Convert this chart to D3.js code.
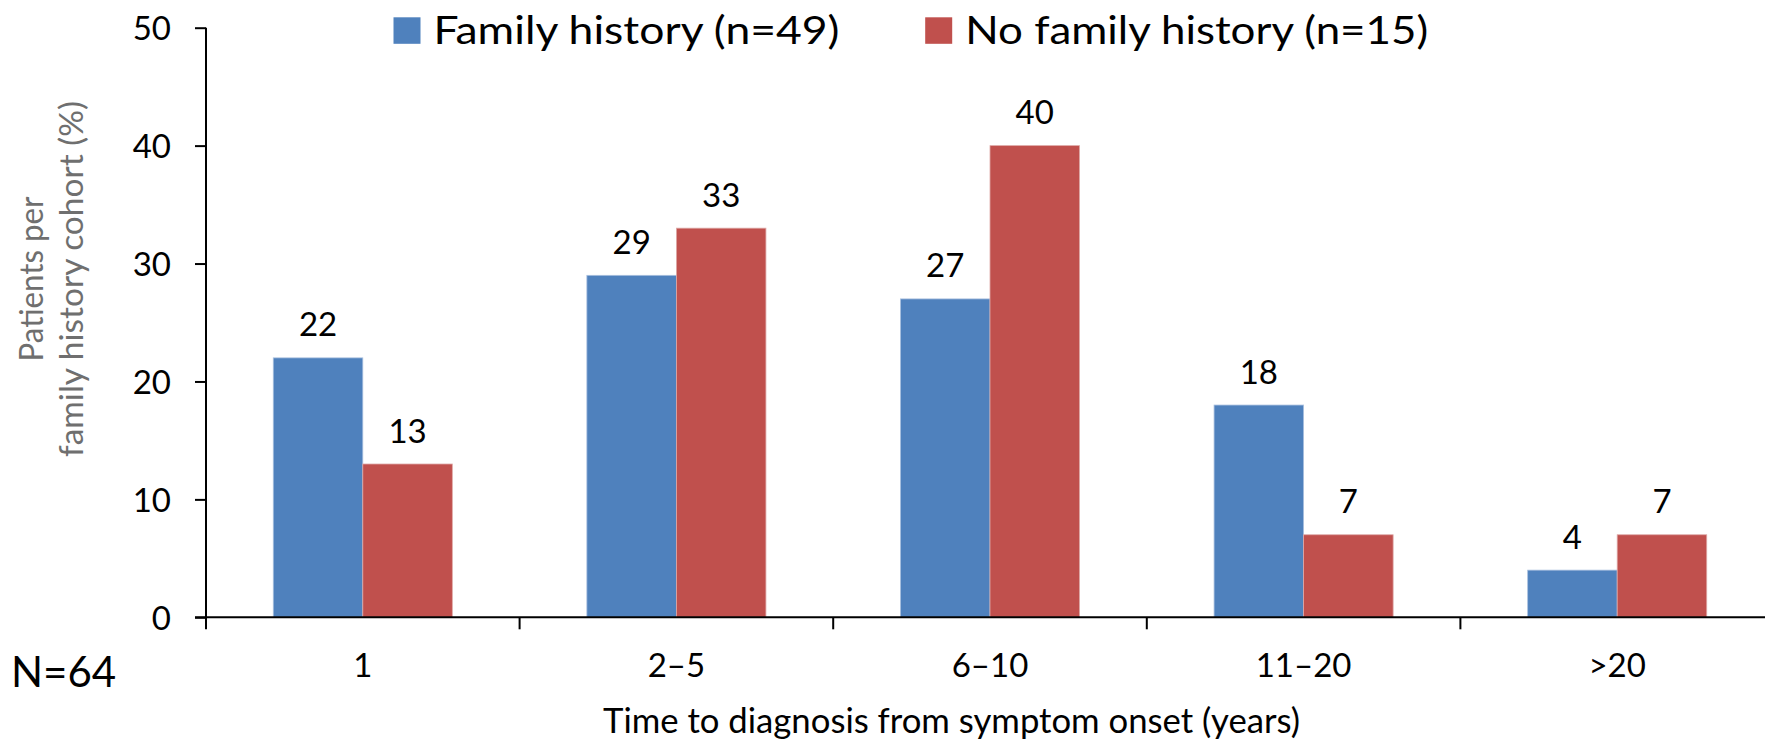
<!DOCTYPE html>
<html>
<head>
<meta charset="utf-8">
<script src="https://cdn.jsdelivr.net/npm/d3@7.9.0/dist/d3.min.js"></script>
<style>
    body { margin: 0; background: #fff; }
    svg { display: block; font-family: Lato, 'Open Sans', sans-serif; }
</style>
</head>
<body>
<svg id="chart" width="1765" height="741"></svg>
<script>
// --- DATA ---
const categories = ['1', '2–5', '6–10', '11–20', '>20'];
const seriesNames = ['Family history (n=49)', 'No family history (n=15)'];
const familyHistory = [22, 29, 27, 18, 4];
const noFamilyHistory = [13, 33, 40, 7, 7];
const yTicks = [0, 10, 20, 30, 40, 50];
const colors = ['#4f81bd', '#c0504d'];

const rows = categories.map((c, i) => ({
    cat: c,
    values: [familyHistory[i], noFamilyHistory[i]]
}));

// --- SCALES ---
const svg = d3.select('#chart');

const y = d3.scaleLinear().domain([0, 50]).range([617.3, 27.7]);

// the last band runs off the right edge, like in the original
const x0 = d3.scaleBand()
    .domain(categories)
    .range([206, 1774])
    .paddingInner(0.429)
    .paddingOuter(0.2145);

const x1 = d3.scaleBand()
    .domain([0, 1])
    .range([0, x0.bandwidth()]);

// --- BARS ---
const groups = svg.append('g')
    .selectAll('g')
    .data(rows)
    .join('g')
    .attr('transform', d => `translate(${x0(d.cat)},0)`);

groups.selectAll('rect')
    .data(d => d.values.map((v, i) => ({ v, i })))
    .join('rect')
    .attr('x', d => x1(d.i))
    .attr('y', d => y(d.v))
    .attr('width', x1.bandwidth())
    .attr('height', d => y(0) - y(d.v))
    .attr('fill', d => colors[d.i])
    .attr('stroke', d => d.i === 0 ? '#a9c0df' : '#dea9a7')
    .attr('stroke-width', 0.8);

groups.selectAll('text.val')
    .data(d => d.values.map((v, i) => ({ v, i })))
    .join('text')
    .attr('class', 'val')
    .attr('x', d => x1(d.i) + x1.bandwidth() / 2)
    .attr('y', d => y(d.v) - 21.5)
    .attr('text-anchor', 'middle')
    .attr('font-size', 33)
    .attr('fill', '#000')
    .text(d => d.v);

// --- AXES ---
const yAxis = svg.append('g')
    .attr('transform', 'translate(206,0)')
    .call(d3.axisLeft(y).tickValues(yTicks).tickSize(11).tickPadding(24));

yAxis.select('.domain').attr('stroke', '#000').attr('stroke-width', 2)
    .attr('d', `M0,${y(50)}V${y(0) + 12}`);
yAxis.selectAll('.tick line').attr('stroke', '#000').attr('stroke-width', 2);
yAxis.selectAll('.tick text')
    .attr('font-size', 33)
    .attr('font-family', 'Lato, sans-serif')
    .attr('fill', '#000')
    .attr('dy', '0.36em');

// x axis line plus the little ticks between categories
const xAxis = svg.append('g');
xAxis.append('line')
    .attr('x1', 195).attr('x2', 1765)
    .attr('y1', y(0)).attr('y2', y(0))
    .attr('stroke', '#000').attr('stroke-width', 2);

xAxis.selectAll('line.sep')
    .data(categories.slice(1))
    .join('line')
    .attr('class', 'sep')
    .attr('x1', d => x0(d) - x0.step() * 0.2145)
    .attr('x2', d => x0(d) - x0.step() * 0.2145)
    .attr('y1', y(0)).attr('y2', y(0) + 12)
    .attr('stroke', '#000').attr('stroke-width', 2);

xAxis.selectAll('text')
    .data(categories)
    .join('text')
    .attr('x', d => x0(d) + x0.bandwidth() / 2)
    .attr('y', 677)
    .attr('text-anchor', 'middle')
    .attr('font-size', 33)
    .text(d => d);

// --- TITLES ---
svg.append('text')
    .attr('x', 951.5)
    .attr('y', 733)
    .attr('text-anchor', 'middle')
    .attr('font-size', 34)
    .attr('textLength', 697)
    .attr('lengthAdjust', 'spacingAndGlyphs')
    .text('Time to diagnosis from symptom onset (years)');

const yTitle = svg.append('text')
    .attr('transform', 'translate(0,279) rotate(-90)')
    .attr('text-anchor', 'middle')
    .attr('font-size', 32)
    .attr('fill', '#6f6f6f');
yTitle.append('tspan').attr('x', 0).attr('y', 42.7)
    .attr('textLength', 165).attr('lengthAdjust', 'spacingAndGlyphs')
    .text('Patients per');
yTitle.append('tspan').attr('x', 0).attr('y', 83.3)
    .attr('textLength', 356).attr('lengthAdjust', 'spacingAndGlyphs')
    .text('family history cohort (%)');

svg.append('text')
    .attr('x', 11)
    .attr('y', 687)
    .attr('font-size', 42)
    .text('N=64');

// --- LEGEND ---
const legendX = [393.5, 925.2];
const legendLen = [406, 463];
const legend = svg.append('g')
    .selectAll('g')
    .data(seriesNames)
    .join('g')
    .attr('transform', (d, i) => `translate(${legendX[i]},0)`);

legend.append('rect')
    .attr('y', 17.3)
    .attr('width', 27)
    .attr('height', 26.5)
    .attr('fill', (d, i) => colors[i]);

legend.append('text')
    .attr('x', 40)
    .attr('y', 43.7)
    .attr('font-size', 39)
    .attr('textLength', (d, i) => legendLen[i])
    .attr('lengthAdjust', 'spacingAndGlyphs')
    .text(d => d);
</script>
</body>
</html>
